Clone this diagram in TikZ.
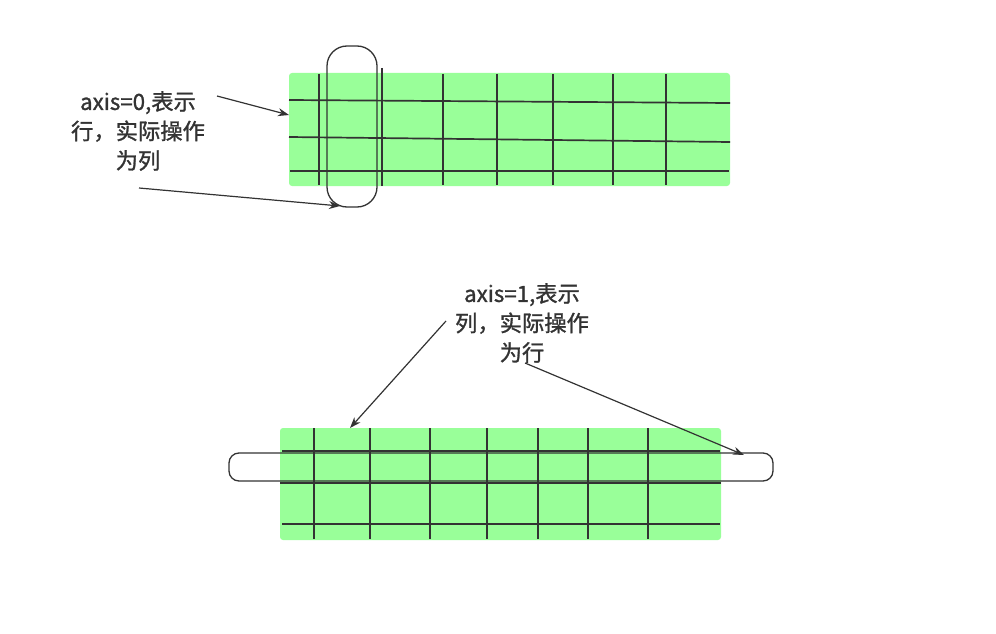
\documentclass[tikz,border=0pt]{standalone}
\usepackage{fontspec}
\newfontfamily\cjk[FakeBold=1.2]{Noto Sans CJK SC}
\usetikzlibrary{arrows.meta}
\definecolor{gridgreen}{HTML}{99FF99}
\definecolor{linegray}{HTML}{333333}

\begin{document}
\begin{tikzpicture}[
        % one unit is one pixel of the reference
        x=1pt, y=-1pt,
        >={Stealth[length=11pt,width=8pt]},
        cellblock/.style={fill=gridgreen, draw=none, rounded corners=3pt},
        gridline/.style={draw=linegray, line width=1.7pt},
        slicebox/.style={draw=linegray, line width=1.3pt},
        pointer/.style={->, draw=linegray, line width=1.2pt},
        axislabel/.style={
            font=\cjk\fontsize{22.3}{29.5}\selectfont,
            align=center,
            text=linegray,
            inner sep=0pt
        }
        ]

        \useasboundingbox (0,0) rectangle (996,634);

        % axis=0 block
        \fill [cellblock] (289,73) rectangle (730,186);
        \draw [gridline] (289,100) -- (730,103);
        \draw [gridline] (289,137) -- (730,142);
        \draw [gridline] (290,171) -- (729,171);
        \foreach \x in {319,443,497,553,613,666}
            \draw [gridline] (\x,74) -- (\x,185);
        \draw [gridline] (382,68) -- (382,186);
        \draw [slicebox, rounded corners=20pt] (327,46) rectangle (377,207);

        \node [axislabel] (lbl_axis0) at (138,131) {axis=0,表示\\行，实际操作\\为列};
        \coordinate (a0_from1) at (217,96);
        \coordinate (a0_to1) at (289,115);
        \coordinate (a0_from2) at (139,188);
        \coordinate (a0_to2) at (340,206);
        \draw [pointer] (a0_from1) -- (a0_to1);
        \draw [pointer] (a0_from2) -- (a0_to2);

        % axis=1 block
        \fill [cellblock] (280,428) rectangle (721,540);
        \draw [gridline] (282,451) -- (720,451);
        \draw [gridline] (280,483) -- (721,483);
        \draw [gridline] (282,524) -- (720,524);
        \foreach \x in {314,370,430,487,538,588,648}
            \draw [gridline] (\x,428) -- (\x,539);
        \draw [slicebox, rounded corners=10pt] (229,453) rectangle (773,481);

        \node [axislabel] (lbl_axis1) at (522,323) {axis=1,表示\\列，实际操作\\为行};
        \coordinate (a1_from1) at (446,321);
        \coordinate (a1_to1) at (350,428);
        \coordinate (a1_from2) at (525,363);
        \coordinate (a1_to2) at (744,455);
        \draw [pointer] (a1_from1) -- (a1_to1);
        \draw [pointer] (a1_from2) -- (a1_to2);
\end{tikzpicture}
\end{document}
